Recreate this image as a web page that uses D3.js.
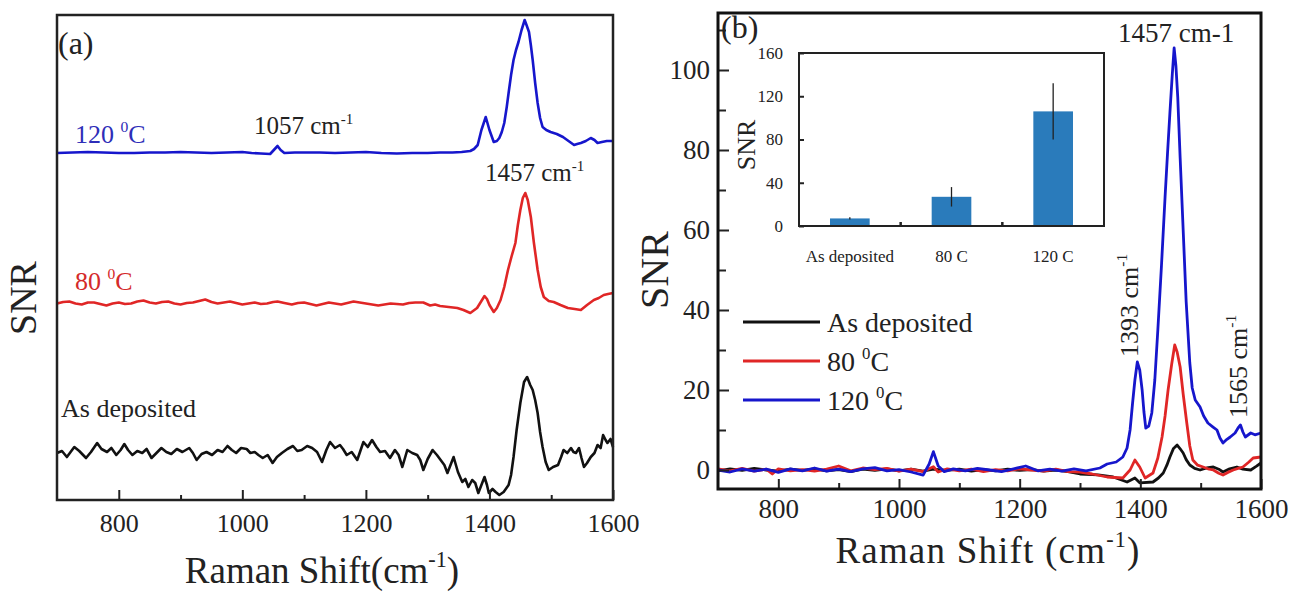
<!DOCTYPE html>
<html>
<head>
<meta charset="utf-8">
<script src="https://cdn.jsdelivr.net/npm/d3@7"></script>
<style>
  body { margin: 0; background: #fff; }
  svg { display: block; }
</style>
</head>
<body>
<div id="chart"></div>
<script>
// ---- data ----
const xTicks      = [800, 1000, 1200, 1400, 1600];
const xMinorTicks = [900, 1100, 1300, 1500];
const bYTicks      = [0, 20, 40, 60, 80, 100];
const bYMinorTicks = [10, 30, 50, 70, 90, 110];
const insetYTicks  = [0, 40, 80, 120, 160];

// panel (a): stacked, offset traces (arbitrary units)
const aAsDeposited = [[700,0.94],[708,0.98],[716,0.86],[722,0.96],[728,1.06],[736,0.98],[747,0.84],[755,0.96],[765,1.14],[772,1.02],[781,0.96],[788,1.04],[796,0.90],[803,1.00],[809,1.12],[815,1.00],[822,0.90],[830,0.98],[838,0.94],[845,1.02],[853,0.84],[861,0.94],[869,1.04],[877,0.96],[885,0.92],[894,1.02],[903,0.96],[914,1.04],[920,0.94],[926,0.80],[934,0.92],[942,0.96],[951,0.90],[960,1.00],[968,0.96],[976,1.08],[983,1.00],[990,0.94],[998,1.04],[1007,1.02],[1013,0.94],[1020,0.96],[1026,0.90],[1033,0.84],[1041,0.90],[1049,0.74],[1056,0.86],[1064,0.94],[1073,1.02],[1082,1.08],[1089,0.98],[1096,1.00],[1105,1.08],[1113,1.04],[1121,0.96],[1129,0.76],[1136,1.00],[1142,1.16],[1150,1.04],[1158,1.10],[1163,1.02],[1169,0.90],[1177,0.96],[1186,0.80],[1191,0.98],[1196,1.16],[1203,1.06],[1210,1.20],[1217,1.06],[1223,0.96],[1231,0.98],[1239,0.84],[1247,1.00],[1253,0.90],[1259,0.66],[1267,1.00],[1275,0.94],[1283,0.90],[1288,0.80],[1293,0.60],[1300,0.82],[1308,1.00],[1315,0.90],[1321,0.80],[1327,0.70],[1332,0.54],[1337,0.70],[1342,0.86],[1349,0.56],[1356,0.36],[1361,0.42],[1366,0.26],[1372,0.40],[1377,0.34],[1382,0.14],[1387,0.30],[1392,0.46],[1396,0.30],[1399,0.14],[1405,0.22],[1410,0.16],[1416,0.10],[1423,0.16],[1431,0.30],[1435,0.50],[1439,0.86],[1444,1.40],[1450,1.94],[1456,2.36],[1461,2.46],[1466,2.30],[1470,2.20],[1474,2.00],[1478,1.74],[1482,1.36],[1486,1.06],[1491,0.76],[1496,0.60],[1503,0.66],[1511,0.70],[1516,0.86],[1520,1.00],[1526,0.94],[1532,1.04],[1536,0.96],[1540,0.94],[1545,1.04],[1549,0.84],[1553,0.66],[1558,0.74],[1564,0.86],[1570,0.94],[1575,1.10],[1580,1.04],[1584,1.30],[1588,1.20],[1591,1.14],[1596,1.22],[1600,1.06]];
const a80C = [[700,3.93],[710,3.96],[720,3.97],[730,3.93],[740,3.91],[750,3.95],[760,3.95],[770,3.92],[780,3.89],[790,3.93],[800,3.95],[810,3.92],[820,3.93],[830,3.97],[840,3.99],[850,3.95],[860,3.93],[870,3.96],[880,3.97],[890,3.93],[900,3.91],[910,3.94],[920,3.95],[930,3.98],[940,4.01],[950,3.96],[960,3.93],[970,3.95],[980,3.97],[990,3.94],[1000,3.91],[1010,3.93],[1020,3.95],[1030,3.92],[1040,3.93],[1050,3.96],[1057,3.97],[1068,3.94],[1080,3.91],[1090,3.94],[1100,3.95],[1110,3.92],[1120,3.89],[1130,3.92],[1140,3.95],[1150,3.93],[1160,3.91],[1170,3.94],[1180,3.97],[1190,3.95],[1200,3.93],[1210,3.91],[1220,3.89],[1230,3.91],[1240,3.93],[1250,3.92],[1260,3.91],[1270,3.94],[1280,3.95],[1293,3.95],[1304,3.89],[1312,3.91],[1320,3.88],[1334,3.86],[1348,3.84],[1358,3.80],[1369,3.74],[1380,3.84],[1386,3.96],[1392,4.08],[1396,4.02],[1400,3.90],[1407,3.76],[1412,3.84],[1418,4.00],[1424,4.26],[1430,4.60],[1436,4.88],[1442,5.14],[1446,5.50],[1450,5.80],[1454,6.04],[1458,6.14],[1462,6.00],[1467,5.66],[1472,5.14],[1478,4.60],[1483,4.26],[1488,4.06],[1496,3.98],[1504,3.96],[1515,3.90],[1527,3.84],[1538,3.82],[1548,3.80],[1558,3.90],[1569,4.00],[1577,4.04],[1585,4.10],[1592,4.12],[1600,4.14]];
const a120C = [[700,6.94],[725,6.95],[750,6.96],[775,6.95],[800,6.94],[825,6.94],[850,6.95],[875,6.95],[900,6.96],[925,6.95],[950,6.94],[975,6.95],[1000,6.96],[1015,6.94],[1030,6.93],[1045,6.92],[1051,7.00],[1057,7.08],[1062,7.00],[1068,6.94],[1085,6.95],[1100,6.95],[1125,6.95],[1150,6.94],[1175,6.95],[1200,6.96],[1225,6.94],[1250,6.93],[1275,6.94],[1300,6.94],[1320,6.95],[1340,6.95],[1355,6.96],[1369,6.98],[1375,7.02],[1381,7.10],[1387,7.40],[1394,7.66],[1400,7.40],[1407,7.16],[1412,7.18],[1416,7.24],[1420,7.36],[1424,7.54],[1428,7.86],[1431,8.14],[1435,8.50],[1439,8.80],[1443,9.00],[1447,9.16],[1452,9.40],[1457,9.60],[1460,9.50],[1464,9.36],[1467,9.10],[1470,8.80],[1474,8.34],[1478,7.94],[1482,7.64],[1486,7.46],[1492,7.40],[1499,7.36],[1509,7.32],[1519,7.26],[1528,7.18],[1537,7.10],[1542,7.12],[1548,7.14],[1556,7.18],[1564,7.24],[1570,7.20],[1575,7.14],[1582,7.16],[1590,7.18],[1600,7.18]];

// panel (b): SNR spectra
const bAsDeposited = [[700,-0.2],[720,0.3],[740,-0.1],[760,0.4],[780,0.0],[800,-0.3],[820,0.2],[840,-0.1],[860,0.3],[880,-0.2],[900,0.1],[920,-0.4],[940,0.2],[960,-0.1],[980,0.3],[1000,-0.2],[1020,0.2],[1040,-0.3],[1057,0.2],[1080,-0.1],[1100,0.2],[1120,-0.3],[1140,0.1],[1160,-0.2],[1180,0.2],[1200,-0.1],[1220,0.1],[1240,-0.3],[1260,0.0],[1280,-0.4],[1300,-1.0],[1330,-1.2],[1355,-1.75],[1378,-3.0],[1391,-2.0],[1399,-3.2],[1421,-3.0],[1430,-2.0],[1438,-0.75],[1444,1.2],[1449,3.25],[1455,5.4],[1461,6.25],[1466,5.3],[1471,4.25],[1476,2.6],[1482,1.25],[1490,0.4],[1499,0],[1510,0.5],[1521,0.75],[1530,0.2],[1537,-0.5],[1548,0.3],[1560,0.75],[1570,0.2],[1583,0],[1592,0.9],[1600,1.75]];
const b80C = [[700,0.3],[720,-0.2],[740,0.4],[760,-0.3],[780,0.2],[790,-1.0],[800,0.3],[820,-0.2],[840,0.1],[860,-0.3],[880,0.2],[900,1.0],[920,-0.2],[940,0.5],[960,0.1],[980,0.4],[1000,-0.3],[1020,0.2],[1040,-0.4],[1057,0.8],[1065,-0.5],[1080,0.3],[1100,-0.2],[1120,0.2],[1140,-0.4],[1160,0.1],[1180,-0.2],[1200,0.3],[1220,0.0],[1240,-0.3],[1260,0.2],[1280,-0.4],[1300,-0.5],[1320,-1.0],[1345,-1.75],[1371,-2],[1383,0],[1391,2.5],[1399,0.75],[1408,-2],[1421,-0.75],[1429,3.0],[1436,8.25],[1441,13.5],[1446,20],[1452,26.5],[1457,31.25],[1461,29.5],[1466,25.75],[1471,19.0],[1477,11.75],[1482,6.0],[1487,2.5],[1495,1.2],[1504,0.75],[1512,0.3],[1521,0],[1530,-0.8],[1537,-1.25],[1545,-0.6],[1554,0],[1562,0.4],[1570,0.75],[1580,2.0],[1587,3],[1600,3.25]];
const b120C = [[700,0],[720,-0.5],[740,0.3],[760,-0.3],[780,0.2],[800,-0.6],[820,0.3],[840,-0.2],[860,0.5],[880,-0.3],[900,0.2],[920,-0.4],[940,0.3],[960,0.6],[980,-0.2],[1000,0.1],[1020,-0.5],[1040,-1.3],[1050,1.5],[1057,4.6],[1065,1.0],[1075,-0.4],[1090,0.3],[1110,-0.2],[1130,0.4],[1150,0.0],[1170,-0.4],[1190,0.3],[1210,1.0],[1230,-0.2],[1250,0.2],[1270,-0.3],[1290,0.3],[1310,-0.2],[1333,0.5],[1345,1.5],[1360,2.0],[1371,3.25],[1378,5.5],[1383,10],[1387,16.5],[1391,22.5],[1395,27],[1399,25.0],[1403,20],[1406,14.5],[1409,10.5],[1414,11.0],[1419,14.25],[1424,22.5],[1429,35],[1435,51.0],[1441,68.25],[1445,79.0],[1449,89.25],[1453,99.0],[1456,105.5],[1459,101.0],[1462,93.25],[1466,78.0],[1471,60],[1476,42.0],[1482,26.75],[1486,20.5],[1491,17.5],[1499,15.75],[1505,13.5],[1512,11.75],[1520,10.8],[1527,10],[1532,8.0],[1537,6.75],[1543,7.6],[1549,8.25],[1557,9.25],[1562,10.5],[1566,11.25],[1570,9.5],[1574,8.25],[1583,9.25],[1590,8.8],[1600,9.25]];

// inset: mean SNR at 1457 cm-1 with error bars
const insetCategories = ["As deposited", "80 C", "120 C"];
const insetSNR        = [7, 27, 106];
const insetErr        = [1, 9, 26];

const colors = { black: "#111", red: "#e02626", blue: "#1616cc" };
const FONT = "'Liberation Serif', Tinos, 'Times New Roman', Times, serif";

// ---- setup ----
const width = 1301, height = 592;
const svg = d3.select("#chart").append("svg")
  .attr("width", width)
  .attr("height", height)
  .attr("font-family", FONT);

// text with superscript pieces: [[str, isSup], ...]
function richText(g, pieces, size) {
  const t = g.append("text")
    .attr("font-family", FONT).attr("font-size", size).attr("fill", "#222")
    .style("white-space", "pre");
  let up = false;
  pieces.forEach(([s, sup]) => {
    const ts = t.append("tspan").text(s);
    if (sup) {
      ts.attr("font-size", size * 0.6);
      if (!up) { ts.attr("dy", -size * 0.42); up = true; }
    } else if (up) {
      ts.attr("dy", size * 0.42); up = false;
    }
  });
  return t;
}

function styleAxis(g, size) {
  g.attr("font-family", FONT).attr("font-size", size);
  g.select(".domain").remove();
  g.selectAll("line").attr("stroke", "#222").attr("stroke-width", 2);
  g.selectAll("text").attr("fill", "#222").attr("font-family", FONT);
}

const line = (x, y) => d3.line().x(d => x(d[0])).y(d => y(d[1]));

// ---- panel (a) ----
const xA = d3.scaleLinear().domain([700, 1600]).range([57, 613]);
const yA = d3.scaleLinear().domain([0, 9.7]).range([500, 15]);

[[aAsDeposited, colors.black], [a80C, colors.red], [a120C, colors.blue]].forEach(([data, c]) => {
  svg.append("path").datum(data)
    .attr("fill", "none").attr("stroke", c).attr("stroke-width", 2.6)
    .attr("stroke-linejoin", "round")
    .attr("d", line(xA, yA));
});

svg.append("g").attr("transform", "translate(0,500)")
  .call(d3.axisBottom(xA).tickValues(xTicks).tickSize(-10).tickPadding(14).tickFormat(d3.format("d")))
  .call(g => styleAxis(g, 26));
svg.append("g").attr("transform", "translate(0,500)")
  .call(d3.axisBottom(xA).tickValues(xMinorTicks).tickSize(-5).tickFormat(""))
  .call(g => styleAxis(g, 26));

svg.append("rect")
  .attr("x", xA.range()[0]).attr("y", yA.range()[1])
  .attr("width", xA.range()[1] - xA.range()[0]).attr("height", yA.range()[0] - yA.range()[1])
  .attr("fill", "none").attr("stroke", "#222").attr("stroke-width", 2.5);

richText(svg, [["(a)"]], 32).attr("x", 58).attr("y", 54);
richText(svg, [["120 "], ["0", true], ["C"]], 26).attr("x", 75).attr("y", 143).attr("fill", "#2e2eb8");
richText(svg, [["1057 cm"], ["-1", true]], 25).attr("x", 254).attr("y", 134);
richText(svg, [["1457 cm"], ["-1", true]], 25).attr("x", 485).attr("y", 181);
richText(svg, [["80 "], ["0", true], ["C"]], 26).attr("x", 75).attr("y", 290).attr("fill", "#d42a2a");
richText(svg, [["As deposited"]], 26).attr("x", 61).attr("y", 417);

richText(svg, [["SNR"]], 38).attr("text-anchor", "middle")
  .attr("transform", "translate(36,298) rotate(-90)");
richText(svg, [["Raman Shift(cm"], ["-1", true], [")"]], 37)
  .attr("text-anchor", "middle").attr("x", 322).attr("y", 583);

// ---- panel (b) ----
const xB = d3.scaleLinear().domain([700, 1600]).range([718, 1261]);
const yB = d3.scaleLinear().domain([-4.75, 114.25]).range([489, 13]);

[[bAsDeposited, colors.black], [b80C, colors.red], [b120C, colors.blue]].forEach(([data, c]) => {
  svg.append("path").datum(data)
    .attr("fill", "none").attr("stroke", c).attr("stroke-width", 2.8)
    .attr("stroke-linejoin", "round")
    .attr("d", line(xB, yB));
});

svg.append("g").attr("transform", "translate(0,489)")
  .call(d3.axisBottom(xB).tickValues(xTicks).tickSize(-10).tickPadding(10).tickFormat(d3.format("d")))
  .call(g => styleAxis(g, 27));
svg.append("g").attr("transform", "translate(0,489)")
  .call(d3.axisBottom(xB).tickValues(xMinorTicks).tickSize(-6).tickFormat(""))
  .call(g => styleAxis(g, 27));
svg.append("g").attr("transform", "translate(718,0)")
  .call(d3.axisLeft(yB).tickValues(bYTicks).tickSize(-11).tickPadding(8))
  .call(g => styleAxis(g, 27));
svg.append("g").attr("transform", "translate(718,0)")
  .call(d3.axisLeft(yB).tickValues(bYMinorTicks).tickSize(-8).tickFormat(""))
  .call(g => styleAxis(g, 27));

svg.append("rect")
  .attr("x", xB.range()[0]).attr("y", yB.range()[1])
  .attr("width", xB.range()[1] - xB.range()[0]).attr("height", yB.range()[0] - yB.range()[1])
  .attr("fill", "none").attr("stroke", "#111").attr("stroke-width", 3);

richText(svg, [["(b)"]], 32).attr("x", 721).attr("y", 38);
richText(svg, [["1457 cm-1"]], 27).attr("x", 1118).attr("y", 42);
richText(svg, [["1393 cm"], ["-1", true]], 26).attr("transform", "translate(1138,357) rotate(-90)");
richText(svg, [["1565 cm"], ["-1", true]], 26).attr("transform", "translate(1247,418) rotate(-90)");

richText(svg, [["SNR"]], 40).attr("text-anchor", "middle")
  .attr("transform", "translate(668,270) rotate(-90)");
richText(svg, [["Raman Shift (cm"], ["-1", true], [")"]], 37)
  .attr("text-anchor", "middle").attr("letter-spacing", 1.2).attr("x", 988).attr("y", 563);

// legend
const legendNames = [[["As deposited"]], [["80 "], ["0", true], ["C"]], [["120 "], ["0", true], ["C"]]];
const legendColors = [colors.black, colors.red, colors.blue];
legendNames.forEach((pieces, i) => {
  const y = 322 + i * 39;
  svg.append("line").attr("x1", 743).attr("x2", 820).attr("y1", y).attr("y2", y)
    .attr("stroke", legendColors[i]).attr("stroke-width", 3);
  richText(svg, pieces, 28).attr("x", 827).attr("y", y + 10);
});

// ---- inset ----
const xIn = d3.scaleBand().domain(insetCategories).range([799, 1104]).padding(0);
const yIn = d3.scaleLinear().domain([0, 160]).range([226, 53]);
const barW = xIn.bandwidth() * 0.39;

svg.append("rect")
  .attr("x", 799).attr("y", 53).attr("width", 305).attr("height", 173)
  .attr("fill", "#fff").attr("stroke", "none");

svg.selectAll("rect.bar").data(insetCategories).join("rect")
  .attr("class", "bar")
  .attr("x", d => xIn(d) + xIn.bandwidth() / 2 - barW / 2)
  .attr("y", (d, i) => yIn(insetSNR[i]))
  .attr("width", barW)
  .attr("height", (d, i) => yIn(0) - yIn(insetSNR[i]))
  .attr("fill", "#2a7bbb");

svg.selectAll("line.err").data(insetCategories).join("line")
  .attr("class", "err")
  .attr("x1", d => xIn(d) + xIn.bandwidth() / 2)
  .attr("x2", d => xIn(d) + xIn.bandwidth() / 2)
  .attr("y1", (d, i) => yIn(insetSNR[i] - insetErr[i]))
  .attr("y2", (d, i) => yIn(insetSNR[i] + insetErr[i]))
  .attr("stroke", "#222").attr("stroke-width", 1.3);

svg.append("g").attr("transform", "translate(799,0)")
  .call(d3.axisLeft(yIn).tickValues(insetYTicks).tickSize(-5).tickPadding(16))
  .call(g => styleAxis(g, 17));
svg.selectAll("line.sep").data(insetCategories.slice(0, -1)).join("line")
  .attr("class", "sep")
  .attr("x1", d => xIn(d) + xIn.bandwidth()).attr("x2", d => xIn(d) + xIn.bandwidth())
  .attr("y1", yIn(0)).attr("y2", yIn(0) - 4)
  .attr("stroke", "#222").attr("stroke-width", 2.5);

svg.selectAll("text.cat").data(insetCategories).join("text")
  .attr("class", "cat")
  .attr("x", d => xIn(d) + xIn.bandwidth() / 2)
  .attr("y", 262)
  .attr("text-anchor", "middle")
  .attr("font-family", FONT)
  .attr("font-size", 17)
  .attr("fill", "#222")
  .text(d => d);

svg.append("rect")
  .attr("x", 799).attr("y", 53).attr("width", 305).attr("height", 173)
  .attr("fill", "none").attr("stroke", "#222").attr("stroke-width", 2);

richText(svg, [["SNR"]], 26).attr("text-anchor", "middle")
  .attr("transform", "translate(755,145) rotate(-90)");
</script>
</body>
</html>
